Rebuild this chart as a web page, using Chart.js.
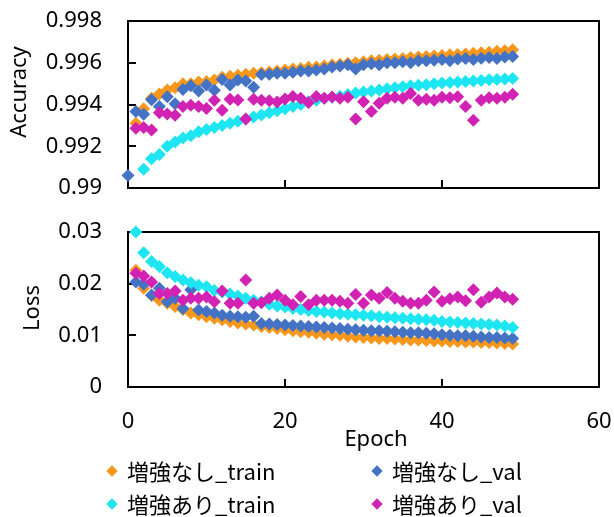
<!DOCTYPE html>
<html><head><meta charset="utf-8">
<script src="https://cdn.jsdelivr.net/npm/chart.js@4.4.1/dist/chart.umd.min.js"></script>
<style>
html,body{margin:0;padding:0;background:#fff;}
#wrap{position:relative;width:614px;height:517px;overflow:hidden;background:#fff;}
canvas{position:absolute;left:0;}
#c1{top:0;}
#c2{top:200px;}
.leg{position:absolute;font-family:'Noto Sans CJK JP','Noto Sans',sans-serif;font-size:22px;color:#000;line-height:22px;white-space:nowrap;}
.mk{position:absolute;width:8px;height:8px;transform:rotate(45deg);}
</style></head><body>
<div id="wrap">
<canvas id="c1" width="614" height="200"></canvas>
<canvas id="c2" width="614" height="260"></canvas>
<div id="legend"></div>
</div>
<script>
// ---- data ----
const epochs = [0,1,2,3,4,5,6,7,8,9,
  10,11,12,13,14,15,16,17,18,19,
  20,21,22,23,24,25,26,27,28,29,
  30,31,32,33,34,35,36,37,38,39,
  40,41,42,43,44,45,46,47,48,49];

const seriesNames = ['増強なし_train','増強なし_val','増強あり_train','増強あり_val'];
const seriesColors = ['#F7981D','#4472C4','#1DE6F2','#D222B4'];

const accNoAugTrain = [null,0.9931,0.9938,0.9943,0.9945,0.9947,0.9948,0.9950,0.9950,0.99508,
  0.9951,0.99517,0.9953,0.99535,0.9954,0.99545,0.9955,0.99552,0.99556,0.9956,
  0.99565,0.9957,0.99573,0.99578,0.9958,0.99585,0.9959,0.99593,0.99598,0.996,
  0.99605,0.9961,0.99612,0.99615,0.99618,0.9962,0.99625,0.99628,0.9963,0.99632,
  0.99635,0.99638,0.9964,0.99642,0.99645,0.99648,0.9965,0.99655,0.99658,0.99662];
const accNoAugVal = [0.9906,0.99367,0.99353,0.99423,0.9939,0.99437,0.99404,0.99472,0.9949,0.99465,
  0.99494,0.99468,0.9952,0.99493,0.99517,0.99512,0.99483,0.99544,0.99545,0.9955,
  0.9955,0.99555,0.9956,0.9956,0.99565,0.9957,0.9958,0.99585,0.9959,0.9957,
  0.9959,0.99595,0.9959,0.996,0.996,0.99605,0.996,0.9961,0.9961,0.99612,
  0.99615,0.9961,0.99618,0.9962,0.99615,0.99622,0.99625,0.9962,0.99628,0.9963];
const accAugTrain = [null,null,0.9909,0.9914,0.9916,0.9920,0.9922,0.9924,0.9925,0.9927,
  0.9928,0.9929,0.9930,0.9931,0.9932,0.9933,0.9934,0.9935,0.9936,0.9937,
  0.9938,0.9939,0.9940,0.99413,0.9942,0.9943,0.99435,0.9944,0.99448,0.99455,
  0.9946,0.99465,0.9947,0.99475,0.9948,0.99485,0.9949,0.99492,0.99495,0.995,
  0.99503,0.99505,0.99508,0.9951,0.99512,0.99515,0.99518,0.9952,0.99522,0.99525];
const accAugVal = [null,0.99286,0.9929,0.99278,0.9936,0.99354,0.99349,0.9939,0.99397,0.9939,
  0.99381,0.9942,0.99372,0.99425,0.99422,0.99331,0.99425,0.9942,0.99418,0.99412,
  0.99426,0.99438,0.9943,0.9941,0.99438,0.9943,0.99436,0.9943,0.99435,0.99331,
  0.99413,0.99366,0.99406,0.9943,0.99435,0.9943,0.99453,0.9942,0.99425,0.9942,
  0.99435,0.99432,0.99437,0.9939,0.99325,0.9942,0.99432,0.9943,0.99435,0.99449];

const lossNoAugTrain = [null,0.0226,0.0191,0.0177,0.0168,0.0162,0.0156,0.0150,0.0143,0.0140,
  0.0136,0.0133,0.0130,0.0127,0.0124,0.0122,0.0120,0.0117,0.0115,0.0113,
  0.0111,0.0109,0.0107,0.0106,0.0104,0.0102,0.0101,0.0100,0.0098,0.0097,
  0.0096,0.0095,0.0094,0.0094,0.0093,0.0092,0.0091,0.0091,0.0090,0.0089,
  0.0089,0.0088,0.0088,0.0087,0.0087,0.0086,0.0086,0.0085,0.0084,0.0083];
const lossNoAugVal = [null,0.0203,0.0199,0.0178,0.0191,0.0165,0.0172,0.0152,0.0188,0.0149,
  0.0146,0.0143,0.0139,0.0137,0.0136,0.0135,0.0137,0.0123,0.0122,0.0121,
  0.0120,0.0119,0.0118,0.0117,0.0116,0.0115,0.0114,0.0113,0.0112,0.0111,
  0.0110,0.0109,0.0109,0.0108,0.0107,0.0106,0.0105,0.0105,0.0104,0.0103,
  0.0101,0.0100,0.0099,0.0099,0.0098,0.0097,0.0096,0.0096,0.0095,0.0094];
const lossAugTrain = [null,0.0300,0.0260,0.0243,0.0233,0.0221,0.0214,0.0207,0.0202,0.0197,
  0.0194,0.0187,0.0184,0.0180,0.0176,0.0172,0.0168,0.0165,0.0160,0.0157,
  0.0155,0.0152,0.0150,0.0148,0.0146,0.0145,0.0143,0.0142,0.0141,0.0140,
  0.0139,0.0138,0.0136,0.0135,0.0134,0.0133,0.0132,0.0131,0.0130,0.0129,
  0.0127,0.0126,0.0125,0.0124,0.0123,0.0122,0.0121,0.0120,0.0118,0.0115];
const lossAugVal = [null,0.0220,0.0215,0.0203,0.0181,0.0181,0.0186,0.0168,0.0172,0.0172,
  0.0174,0.0165,0.0186,0.0162,0.0162,0.0207,0.0162,0.0163,0.0172,0.0178,
  0.0168,0.0159,0.0175,0.0159,0.0168,0.0168,0.0168,0.0166,0.0162,0.0179,
  0.0162,0.0178,0.0172,0.0183,0.0172,0.0166,0.0162,0.0162,0.0168,0.0184,
  0.0166,0.0171,0.0174,0.0167,0.0188,0.0164,0.0174,0.0182,0.0174,0.0170];

const epochTicks = [0,20,40,60];
const accTicks = [0.99,0.992,0.994,0.996,0.998];
const lossTicks = [0,0.01,0.02,0.03];

// ---- helpers ----
const FONT = {family:'Noto Sans', size:22};
const TXT = '#000';

function pts(values){
  const out = [];
  values.forEach((v,i)=>{ if(v!==null) out.push({x:epochs[i], y:v}); });
  return out;
}
function datasets(list){
  return list.map((vals,i)=>({
    label: seriesNames[i],
    data: pts(vals),
    backgroundColor: seriesColors[i],
    borderColor: seriesColors[i],
    borderWidth: 0,
    pointStyle: 'rectRot',
    pointRadius: 6.5,
    pointHoverRadius: 6.5,
    order: 3 - i,
    clip: false
  }));
}
function fixedTicks(arr){ return (s)=>{ s.ticks = arr.map(v=>({value:v})); }; }
function zeroPad(s){ s.paddingTop = 0; s.paddingBottom = 0; s.paddingLeft = 0; s.paddingRight = 0; }

const framePlugin = {
  id:'frame',
  beforeDatasetsDraw(chart){
    const {ctx, chartArea:a, scales} = chart;
    ctx.save();
    ctx.strokeStyle = '#000';
    ctx.lineWidth = 2;
    ctx.strokeRect(a.left, a.top, a.right - a.left, a.bottom - a.top);
    ctx.beginPath();
    scales.y.ticks.forEach(t=>{
      if (t.value > scales.y.min && t.value < scales.y.max){
        const y = Math.round(scales.y.getPixelForValue(t.value));
        ctx.moveTo(a.left, y); ctx.lineTo(a.left + 8, y);
      }
    });
    scales.x.ticks.forEach(t=>{
      if (t.value > scales.x.min && t.value < scales.x.max){
        const x = Math.round(scales.x.getPixelForValue(t.value));
        ctx.moveTo(x, a.bottom); ctx.lineTo(x, a.bottom - 8);
      }
    });
    ctx.stroke();
    ctx.restore();
  }
};

// axis titles drawn at the reference's positions
const titlePlugin = {
  id:'axisTitles',
  afterDraw(chart, args, opts){
    const ctx = chart.ctx;
    ctx.save();
    ctx.fillStyle = TXT;
    ctx.font = FONT.size + 'px "' + FONT.family + '"';
    ctx.textAlign = 'center';
    ctx.textBaseline = 'middle';
    (opts.items || []).forEach(it=>{
      ctx.save();
      ctx.translate(it.x, it.y);
      if (it.rotate) ctx.rotate(-Math.PI / 2);
      ctx.fillText(it.text, 0, 0);
      ctx.restore();
    });
    ctx.restore();
  }
};

function makeChart(id, seriesList, yMin, yMax, yTicks, titles, showX, padTop, xHeight){
  return new Chart(document.getElementById(id), {
    type: 'scatter',
    data: { datasets: datasets(seriesList) },
    options: {
      responsive: false,
      animation: false,
      events: [],
      layout: { autoPadding: false, padding: { top: padTop, right: 15, left: 0, bottom: 0 } },
      plugins: { legend: {display:false}, tooltip: {enabled:false}, title:{display:false}, axisTitles: {items: titles} },
      scales: {
        x: {
          type: 'linear', min: 0, max: 60,
          afterBuildTicks: fixedTicks(epochTicks),
          ticks: { display: showX, font: FONT, color: TXT, padding: 22, maxRotation: 0, callback: v => String(v) },
          grid: { display: false, drawTicks: false },
          border: { display: false },
          afterFit: s => { s.height = xHeight; zeroPad(s); }
        },
        y: {
          type: 'linear', min: yMin, max: yMax,
          afterBuildTicks: fixedTicks(yTicks),
          ticks: { font: FONT, color: TXT, padding: 26, callback: v => String(v) },
          grid: { display: false, drawTicks: false },
          border: { display: false },
          afterFit: s => { s.width = 128; zeroPad(s); }
        }
      }
    },
    plugins: [framePlugin, titlePlugin]
  });
}

makeChart('c1', [accNoAugTrain, accNoAugVal, accAugTrain, accAugVal], 0.99, 0.998, accTicks,
  [{text:'Accuracy', x:20, y:92, rotate:true}], false, 21, 12);
makeChart('c2', [lossNoAugTrain, lossNoAugVal, lossAugTrain, lossAugVal], 0, 0.03, lossTicks,
  [{text:'Loss', x:33, y:108, rotate:true}, {text:'Epoch', x:376, y:240, rotate:false}], true, 32, 73);

// ---- legend (HTML, from series names/colours) ----
const leg = document.getElementById('legend');
const colX = [112, 377], rowY = [471, 504];
seriesNames.forEach((name,i)=>{
  const cx = colX[i % 2], cy = rowY[Math.floor(i / 2)];
  const mk = document.createElement('div');
  mk.className = 'mk';
  mk.style.left = (cx - 4) + 'px';
  mk.style.top = (cy - 4) + 'px';
  mk.style.background = seriesColors[i];
  leg.appendChild(mk);
  const t = document.createElement('div');
  t.className = 'leg';
  t.textContent = name;
  t.style.left = (cx + 15) + 'px';
  t.style.top = (cy - 12) + 'px';
  leg.appendChild(t);
});
</script>
</body></html>
